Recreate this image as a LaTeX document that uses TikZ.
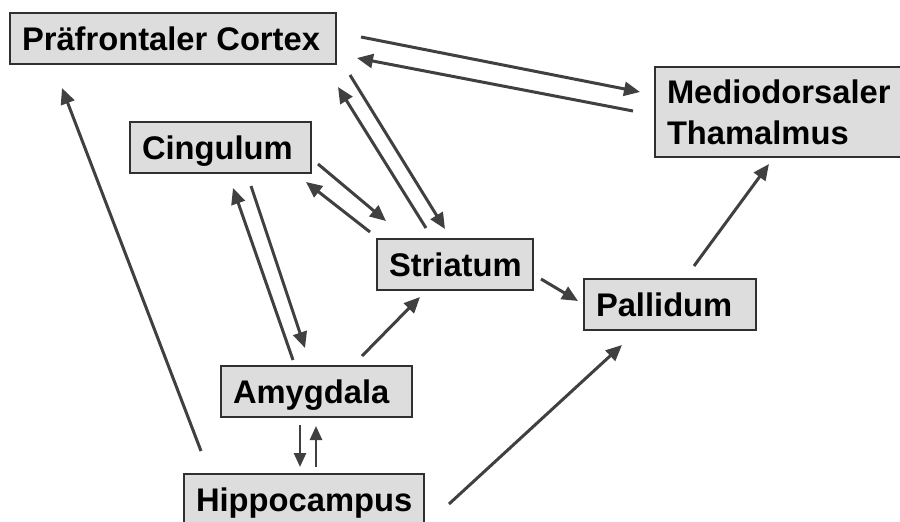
\documentclass[tikz,border=0pt]{standalone}
\usepackage{fontspec}
\setmainfont{Liberation Sans}
\usetikzlibrary{arrows.meta}
\definecolor{boxfill}{HTML}{DDDDDD}
\definecolor{linecol}{HTML}{404040}
\definecolor{boxline}{HTML}{303030}
\begin{document}
\begin{tikzpicture}[x=1pt,y=-1pt,
  region/.style={draw=boxline, fill=boxfill, line width=1.3pt, inner sep=0pt,
    text height=23.4pt, text depth=0pt, font=\fontsize{32.7}{41}\selectfont\bfseries},
  arr/.style={draw=linecol, line width=3pt, -{Triangle[length=16pt,width=14pt]}},
  arrs/.style={draw=linecol, line width=2.5pt, -{Triangle[length=14pt,width=12pt]}}]
\useasboundingbox (0,0) rectangle (900,522);

\node[region, minimum width=326pt, minimum height=51pt] (pfc) at (173,38.5)
  {\makebox[302pt][l]{Präfrontaler Cortex}};
\node[region, minimum width=250pt, minimum height=90pt, text depth=41pt] (md) at (780,112)
  {\makebox[226pt][l]{\begin{tabular}[t]{@{}l@{}}Mediodorsaler\\Thamalmus\end{tabular}}};
\node[region, minimum width=181pt, minimum height=51pt] (cing) at (220.5,147.5)
  {\makebox[157pt][l]{Cingulum}};
\node[region, minimum width=156pt, minimum height=51pt] (str) at (455,264.5)
  {\makebox[132pt][l]{Striatum}};
\node[region, minimum width=172pt, minimum height=51pt] (pal) at (670,304.5)
  {\makebox[148pt][l]{Pallidum}};
\node[region, minimum width=191pt, minimum height=51pt] (amy) at (316.5,391.5)
  {\makebox[167pt][l]{Amygdala}};
\node[region, minimum width=240pt, minimum height=51pt] (hip) at (304,499.5)
  {\makebox[216pt][l]{Hippocampus}};

% PFC <-> MD
\draw[arr] ([shift={(188,-1.5)}]pfc.center) -- ([shift={(-140,-20)}]md.center);
\draw[arr] ([shift={(-147,-1)}]md.center) -- ([shift={(184,19.5)}]pfc.center);
% PFC <-> Striatum
\draw[arr] ([shift={(177,36.5)}]pfc.center) -- ([shift={(-10,-35.5)}]str.center);
\draw[arr] ([shift={(-29,-36.5)}]str.center) -- ([shift={(165,48.5)}]pfc.center);
% Cingulum <-> Striatum
\draw[arr] ([shift={(97.5,16.5)}]cing.center) -- ([shift={(-69,-43.5)}]str.center);
\draw[arr] ([shift={(-85,-32.5)}]str.center) -- ([shift={(85.5,34.5)}]cing.center);
% Cingulum <-> Amygdala
\draw[arr] ([shift={(30.5,38.5)}]cing.center) -- ([shift={(-11.5,-43.5)}]amy.center);
\draw[arr] ([shift={(-23.5,-31.5)}]amy.center) -- ([shift={(12.5,40.5)}]cing.center);
% Amygdala -> Striatum
\draw[arr] ([shift={(45.5,-35.5)}]amy.center) -- ([shift={(-35,32.5)}]str.center);
% Striatum -> Pallidum
\draw[arr] ([shift={(86,14.5)}]str.center) -- ([shift={(-92,-3.5)}]pal.center);
% Pallidum -> MD
\draw[arr] ([shift={(24,-38.5)}]pal.center) -- ([shift={(-11,52)}]md.center);
% Hippocampus -> PFC
\draw[arr] ([shift={(-103,-48.5)}]hip.center) -- ([shift={(-111,49.5)}]pfc.center);
% Amygdala <-> Hippocampus
\draw[arrs] ([shift={(-16.5,33.5)}]amy.center) -- ([shift={(-4,-32.5)}]hip.center);
\draw[arrs] ([shift={(12,-32.5)}]hip.center) -- ([shift={(-0.5,34.5)}]amy.center);
% Hippocampus -> Pallidum
\draw[arr] ([shift={(145,4.5)}]hip.center) -- ([shift={(-48,40.5)}]pal.center);
\end{tikzpicture}
\end{document}
